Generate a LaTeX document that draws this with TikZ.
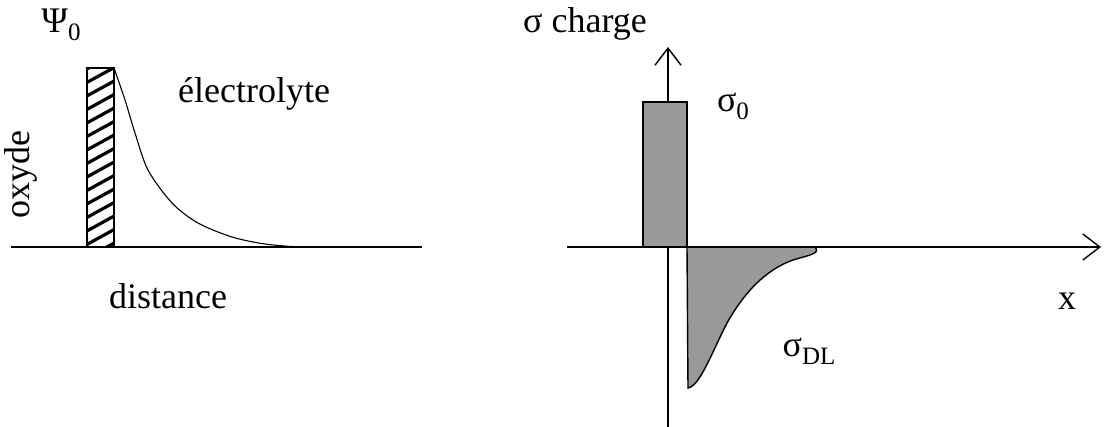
\documentclass[tikz,border=0pt]{standalone}
\usepackage{fontspec}
\setmainfont{Liberation Serif}
\usetikzlibrary{arrows.meta}
\definecolor{fillgray}{RGB}{153,153,153}
\tikzset{
  axis/.style={line width=1.4pt},
  arrowaxis/.style={line width=1.4pt,-{Straight Barb[length=17pt,width=26pt,line width=1.4pt]}},
  lbl/.style={inner sep=0pt,font=\fontsize{36}{42}\selectfont},
  barbox/.style={draw,line width=2.2pt},
  chargebox/.style={draw,line width=1.6pt,fill=fillgray},
}
\newcommand{\mysub}[1]{\raisebox{-0.22em}{\fontsize{25}{28}\selectfont #1}}
\begin{document}
\begin{tikzpicture}[x=1pt,y=-1pt]
\useasboundingbox (0,0) rectangle (1106,426);
% ---------- left panel ----------
\coordinate (bl) at (11,247);
\coordinate (br) at (422,247);
\draw[axis] (bl) -- (br);
% hatched oxide bar
\begin{scope}
  \clip (87,68) rectangle (114,247);
  \foreach \y in {70,83.5,...,275}{
    \draw[line width=3.2pt] (85,\y) -- (116,\y-17);
  }
\end{scope}
\node[barbox,minimum width=27pt,minimum height=179pt,inner sep=0pt] (ox) at (100.5,157.5) {};
% potential decay
\draw[line width=1.1pt] plot[smooth,tension=0.5] coordinates
  {(114,68) (125,100) (135,133) (148,170) (172,203) (198,223) (232,237) (265,244) (298,247)};
\node[lbl] (psi) at (61,25) {Ψ\mysub{0}};
\node[lbl] (elec) at (254,94) {électrolyte};
\node[lbl,rotate=90] (oxy) at (21,175) {oxyde};
\node[lbl] (dist) at (168,296) {distance};
% ---------- right panel ----------
\coordinate (vb) at (668,430);
\coordinate (vt) at (668,47);
\coordinate (hl) at (567,247);
\coordinate (hr) at (1101,247);
\draw[arrowaxis] (vb) -- (vt);
\draw[arrowaxis] (hl) -- (hr);
\node[chargebox,minimum width=44pt,minimum height=145pt,inner sep=0pt] (s0box) at (665,174.5) {};
\draw[chargebox,line width=1.4pt] (687,247) -- (688,388)
  .. controls (700,386) and (712,352) .. (727,323)
  .. controls (744,293) and (765,270) .. (793,260)
  .. controls (805,256) and (822,254) .. (815,247) -- cycle;
\draw[axis] (687,247) -- (815,247);
\node[lbl] (sch) at (585,24) {σ charge};
\node[lbl] (s0) at (733,106) {σ\mysub{0}};
\node[lbl] (sdl) at (809,351) {σ\mysub{DL}};
\node[lbl] (xl) at (1067,301) {x};
\end{tikzpicture}
\end{document}
